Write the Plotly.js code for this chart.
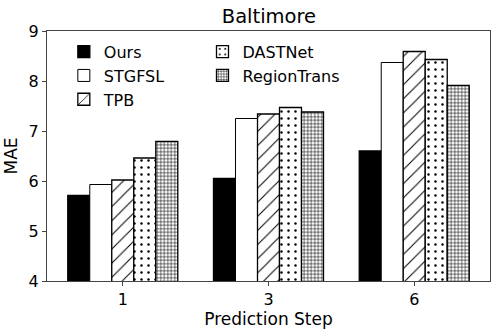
<!DOCTYPE html>
<html>
<head>
<meta charset="utf-8">
<script src="https://cdn.plot.ly/plotly-3.0.1.min.js"></script>
<style>html,body{margin:0;padding:0;background:#fff;}#chart{width:498px;height:335px;}</style>
</head>
<body>
<div id="chart"></div>
<script>
const steps = ["1", "3", "6"];
const methods = ["Ours", "STGFSL", "TPB", "DASTNet", "RegionTrans"];
const ours = [5.71, 6.05, 6.60];
const stgfsl = [5.93, 7.25, 8.37];
const tpb = [6.02, 7.34, 8.59];
const dastnet = [6.46, 7.47, 8.43];
const regiontrans = [6.79, 7.38, 7.91];

const seriesValues = [ours, stgfsl, tpb, dastnet, regiontrans];
const styles = [
  {color: "#000000", pattern: {shape: ""}, legend: "legend"},
  {color: "#ffffff", pattern: {shape: ""}, legend: "legend"},
  {color: "#ffffff", pattern: {shape: "/", fgcolor: "#000", bgcolor: "#fff", size: 10, solidity: 0.1, fillmode: "replace"}, legend: "legend"},
  {color: "#ffffff", pattern: {shape: ".", fgcolor: "#000", bgcolor: "#fff", size: 7, solidity: 0.1, fillmode: "replace"}, legend: "legend2"},
  {color: "#ffffff", pattern: {shape: "+", fgcolor: "#000", bgcolor: "#fff", size: 3.5, solidity: 0.3, fillmode: "replace"}, legend: "legend2"}
];

const traces = methods.map((m, i) => ({
  type: "bar",
  name: m,
  x: steps,
  y: seriesValues[i],
  legend: styles[i].legend,
  marker: {
    color: styles[i].color,
    pattern: styles[i].pattern,
    line: {color: "#000", width: i === 1 ? 1 : 1.3}
  }
}));

const font = {family: "DejaVu Sans, sans-serif", color: "#000"};

const layout = {
  width: 498, height: 335,
  margin: {l: 47, r: 8, t: 31, b: 54},
  paper_bgcolor: "#fff", plot_bgcolor: "#fff",
  font: Object.assign({size: 16}, font),
  title: {text: "Baltimore", font: Object.assign({size: 19.5}, font), x: 0.54, xanchor: "center", y: 0.952, yanchor: "middle"},
  barmode: "group",
  bargap: 0.245,
  bargroupgap: 0,
  xaxis: {
    type: "category",
    range: [-0.52, 2.52],
    showline: true, mirror: true, linecolor: "#444", linewidth: 1,
    ticks: "outside", ticklen: 4, tickcolor: "#444",
    tickfont: Object.assign({size: 16}, font),
    title: {text: "Prediction Step", font: Object.assign({size: 17}, font), standoff: 4},
    showgrid: false, zeroline: false
  },
  yaxis: {
    range: [4, 9],
    tickvals: [4, 5, 6, 7, 8, 9],
    showline: true, mirror: true, linecolor: "#444", linewidth: 1,
    ticks: "outside", ticklen: 4, tickcolor: "#444",
    tickfont: Object.assign({size: 16}, font),
    title: {text: "MAE", font: Object.assign({size: 17}, font), standoff: 6},
    showgrid: false, zeroline: false
  },
  legend: {
    x: 0.038, y: 0.985, xanchor: "left", yanchor: "top",
    bgcolor: "rgba(0,0,0,0)", borderwidth: 0,
    font: Object.assign({size: 16}, font),
    itemwidth: 30, tracegroupgap: 0, traceorder: "normal"
  },
  legend2: {
    x: 0.351, y: 0.985, xanchor: "left", yanchor: "top",
    bgcolor: "rgba(0,0,0,0)", borderwidth: 0,
    font: Object.assign({size: 16}, font),
    itemwidth: 30, tracegroupgap: 0, traceorder: "normal"
  },
  showlegend: true
};

Plotly.newPlot("chart", traces, layout, {displayModeBar: false, staticPlot: true});
</script>
</body>
</html>
